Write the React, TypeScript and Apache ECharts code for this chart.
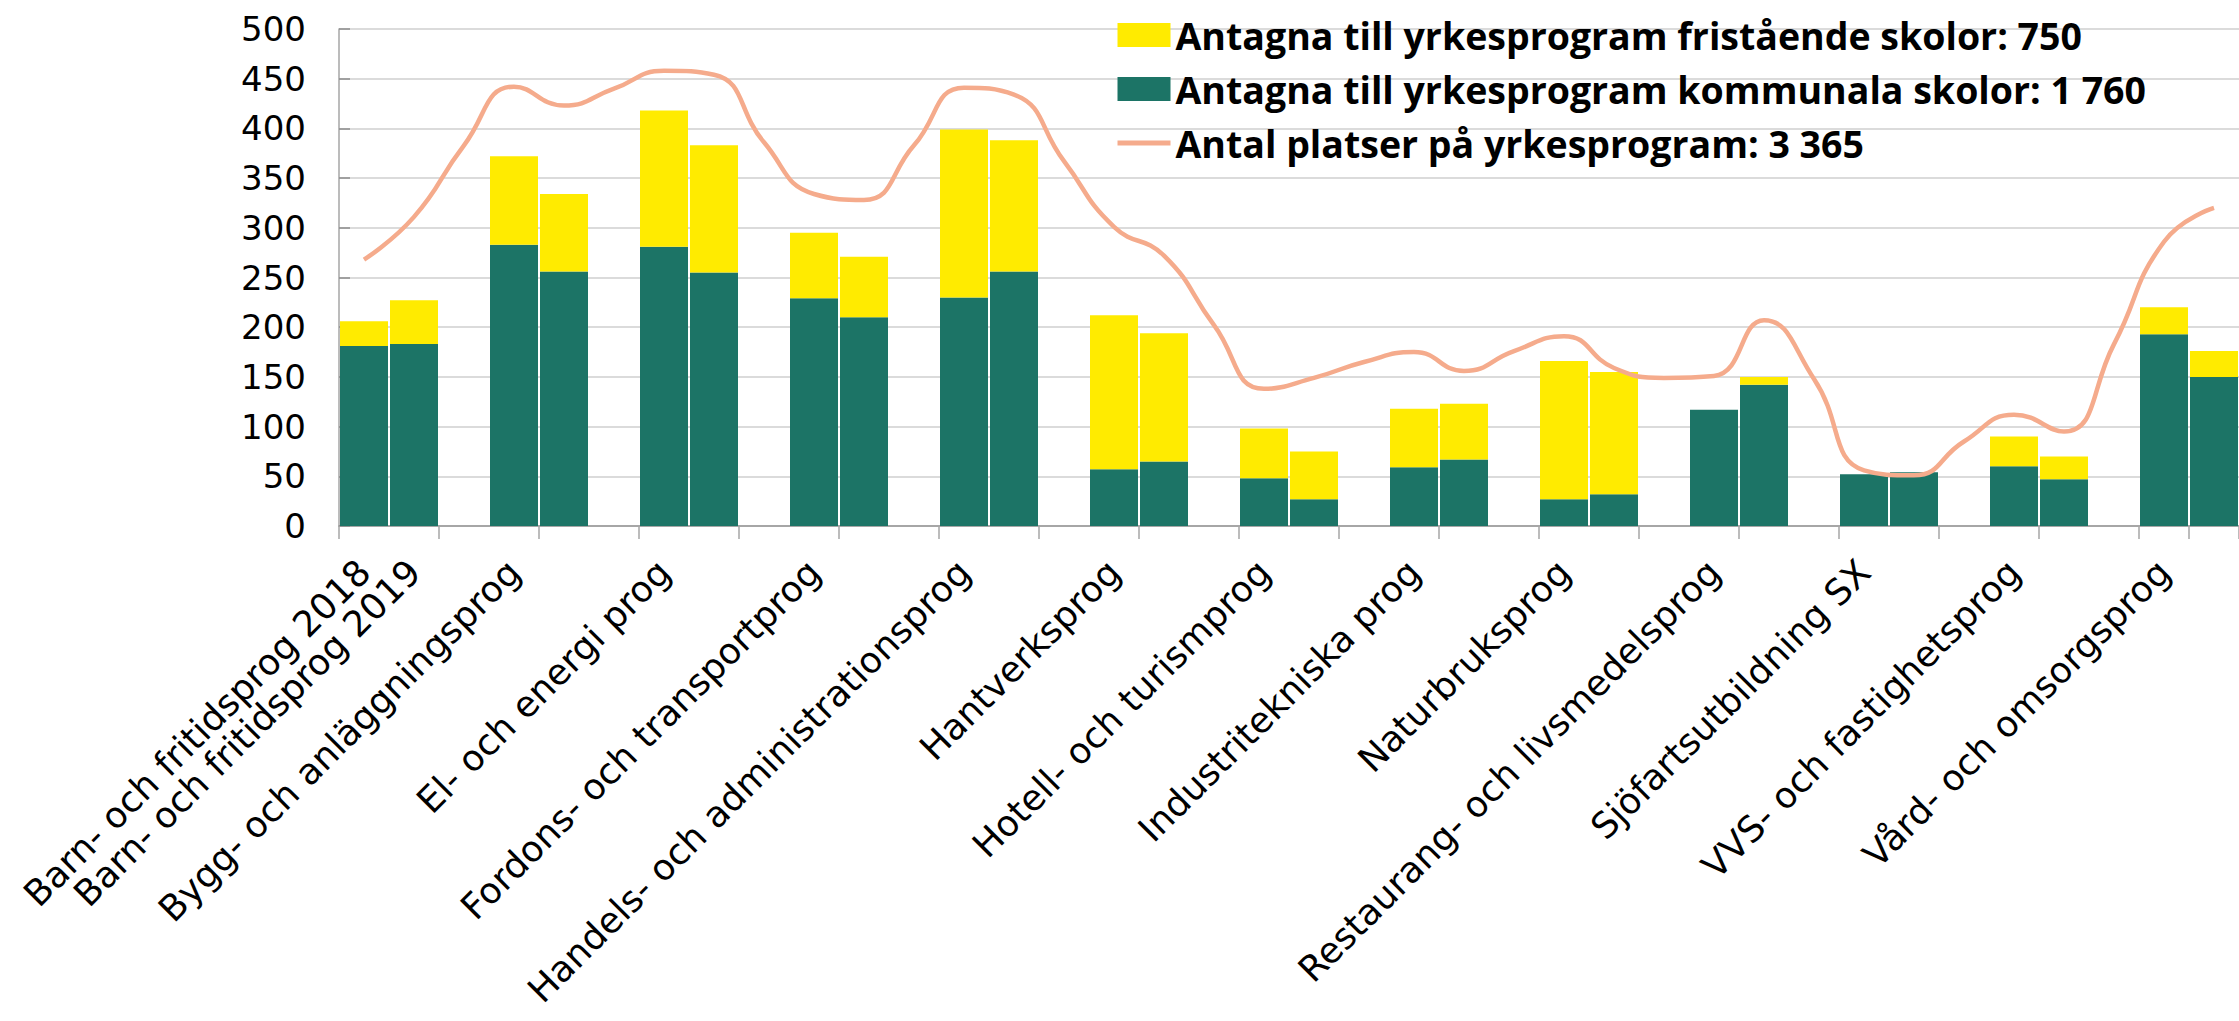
import React, { useEffect, useRef } from "react";
import * as echarts from "echarts";

const programs = [
  "Barn- och fritidsprog",
  "Bygg- och anläggningsprog",
  "El- och energi prog",
  "Fordons- och transportprog",
  "Handels- och administrationsprog",
  "Hantverksprog",
  "Hotell- och turismprog",
  "Industritekniska prog",
  "Naturbruksprog",
  "Restaurang- och livsmedelsprog",
  "Sjöfartsutbildning SX",
  "VVS- och fastighetsprog",
  "Vård- och omsorgsprog",
];

const kommunal2018 = [181, 283, 281, 229, 230, 57, 48, 59, 27, 117, 52, 60, 193];
const kommunal2019 = [183, 256, 255, 210, 256, 65, 27, 67, 32, 142, 54, 47, 150];
const fristaende2018 = [25, 89, 137, 66, 169, 155, 50, 59, 139, 0, 0, 30, 27];
const fristaende2019 = [44, 78, 128, 61, 132, 129, 48, 56, 123, 8, 0, 23, 26];

// one value per slot (2018, 2019, gap) along the axis
const platser = [
  268, 311, 383, 442, 423, 440, 458, 454, 386, 334, 328, 383, 441, 434, 367, 301, 272, 202,
  138, 149, 165, 175, 156, 176, 191, 159, 149, 151, 207, 148, 56, 51, 85, 112, 95, 183, 286, 320,
];

const legendFristaende = "Antagna till yrkesprogram fristående skolor: 750";
const legendKommunal = "Antagna till yrkesprogram kommunala skolor: 1 760";
const legendPlatser = "Antal platser på yrkesprogram: 3 365";

const yTicks = { min: 0, max: 500, interval: 50 };

function buildSlots() {
  const labels: string[] = [];
  const green: (number | string)[] = [];
  const yellow: (number | string)[] = [];
  programs.forEach((p, g) => {
    if (g === 0) {
      labels.push(p + " 2018", p + " 2019");
    } else {
      labels.push(p, "");
    }
    green.push(kommunal2018[g], kommunal2019[g]);
    yellow.push(fristaende2018[g], fristaende2019[g]);
    if (g < programs.length - 1) {
      labels.push("");
      green.push("-");
      yellow.push("-");
    }
  });
  return { labels, green, yellow };
}

export default function App() {
  const ref = useRef<HTMLDivElement>(null);
  useEffect(() => {
    document.body.style.margin = "0";
    if (!ref.current) return;
    const chart = echarts.init(ref.current, null, { renderer: "svg" });
    const { labels, green, yellow } = buildSlots();
    const cats = labels.map((_, i) => "s" + i);
    chart.setOption({
      animation: false,
      backgroundColor: "#ffffff",
      grid: { left: 339, top: 29, bottom: 1021 - 526, right: -4, containLabel: false },
      legend: {
        orient: "vertical",
        left: 1115,
        top: 14,
        padding: 0,
        itemWidth: 53,
        itemHeight: 24,
        itemGap: 12,
        selectedMode: false,
        data: [
          { name: legendFristaende, icon: "rect" },
          { name: legendKommunal, icon: "rect" },
          { name: legendPlatser, itemStyle: { opacity: 0 }, lineStyle: { width: 5 } },
        ],
        textStyle: {
          fontFamily: "Open Sans",
          fontWeight: "bold",
          fontSize: 37.5,
          lineHeight: 42,
          color: "#000",
        },
      },
      xAxis: {
        type: "category",
        data: cats,
        boundaryGap: true,
        axisLine: { show: true, lineStyle: { color: "#a6a6a6", width: 2 } },
        axisTick: { show: true, interval: 1, length: 13, lineStyle: { color: "#a6a6a6", width: 1.5 } },
        axisLabel: {
          interval: 0,
          rotate: 45,
          margin: 40,
          fontFamily: "DejaVu Sans",
          fontSize: 36,
          color: "#000",
          formatter: (_v: string, idx: number) => labels[idx],
        },
        splitLine: { show: false },
      },
      yAxis: {
        type: "value",
        min: yTicks.min,
        max: yTicks.max,
        interval: yTicks.interval,
        axisLine: { show: true, lineStyle: { color: "#a6a6a6", width: 1.5 } },
        axisTick: { show: true, inside: true, length: 11, lineStyle: { color: "#8c8c8c", width: 1.5 } },
        axisLabel: { margin: 33, fontFamily: "DejaVu Sans", fontSize: 34, color: "#000" },
        splitLine: { show: true, lineStyle: { color: "#cfcfcf", width: 1.5 } },
      },
      series: [
        {
          name: legendKommunal,
          type: "bar",
          stack: "a",
          data: green,
          barCategoryGap: "4%",
          itemStyle: { color: "#1c7466" },
        },
        {
          name: legendFristaende,
          type: "bar",
          stack: "a",
          data: yellow,
          barCategoryGap: "4%",
          itemStyle: { color: "#ffeb00" },
        },
        {
          name: legendPlatser,
          type: "line",
          data: platser,
          smooth: 0.5,
          symbol: "none",
          showSymbol: false,
          z: 5,
          lineStyle: { color: "#f5ab8c", width: 4.5 },
          itemStyle: { color: "#f5ab8c" },
        },
      ],
    });
    return () => chart.dispose();
  }, []);
  return <div ref={ref} style={{ width: 2239, height: 1021 }} />;
}
